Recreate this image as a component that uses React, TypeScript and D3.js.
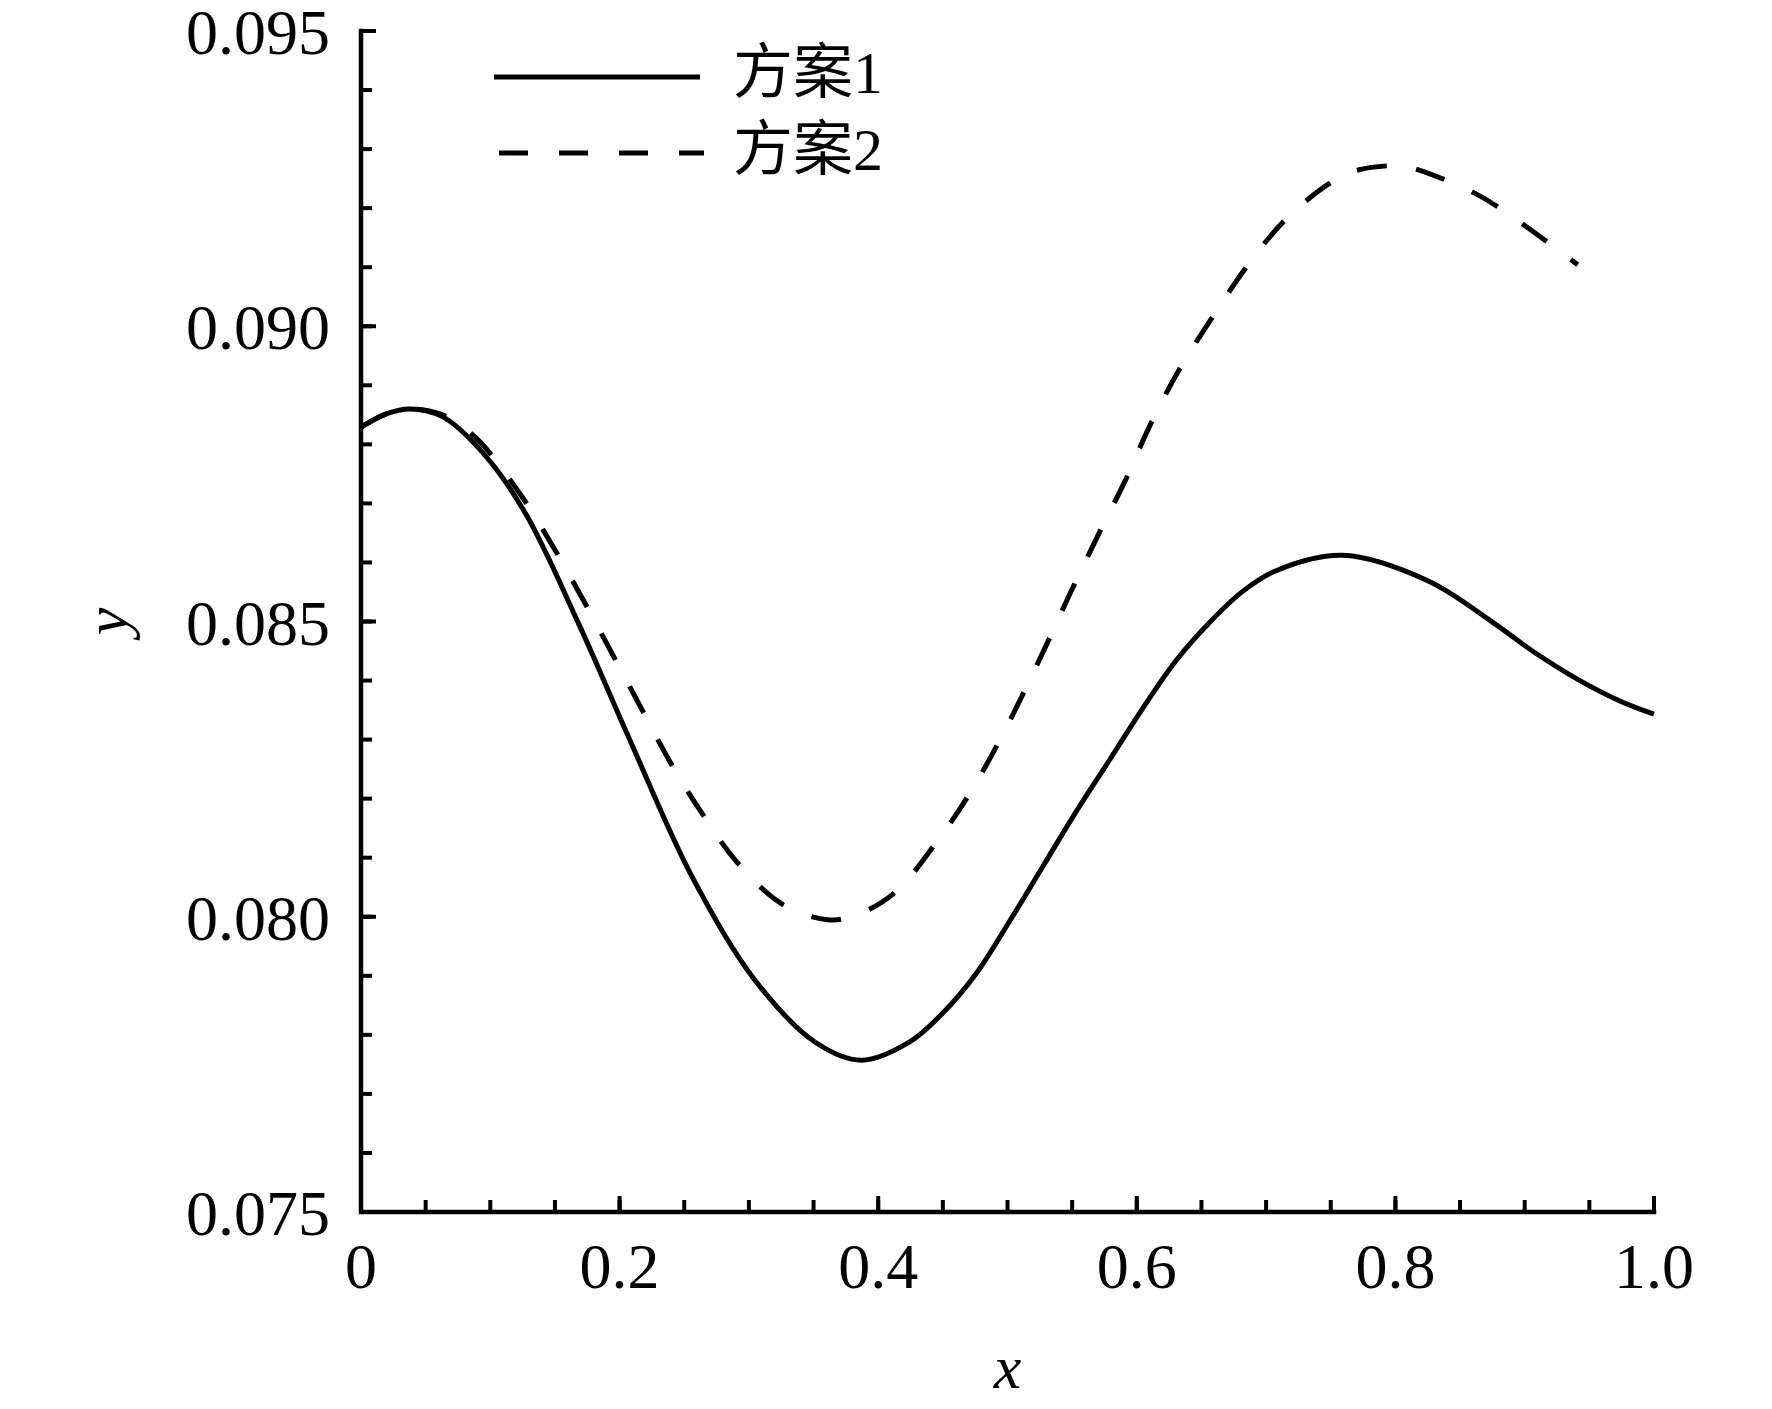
import * as d3 from "d3";
import React from "react";

// values
const xs1 = [0, 0.02, 0.038, 0.063, 0.095, 0.1275, 0.169, 0.207, 0.2555, 0.3035, 0.3516, 0.387, 0.4243, 0.45, 0.4758, 0.5015, 0.5273, 0.5531, 0.5788, 0.6046, 0.6304, 0.6561, 0.6819, 0.7077, 0.759, 0.825, 0.875, 0.908, 0.941, 0.974, 1.0];
const ys1 = [0.08829, 0.08852, 0.0886, 0.08847, 0.08784, 0.08682, 0.08493, 0.08304, 0.0807, 0.07896, 0.07787, 0.07757, 0.07788, 0.07837, 0.07904, 0.07992, 0.08085, 0.08178, 0.08265, 0.08353, 0.08434, 0.08498, 0.08551, 0.08586, 0.08612, 0.08569, 0.08499, 0.08447, 0.08402, 0.08365, 0.08343];

const xs2 = [0, 0.02, 0.038, 0.063, 0.0889, 0.124, 0.1498, 0.1722, 0.1946, 0.217, 0.2396, 0.2635, 0.2906, 0.326, 0.361, 0.3818, 0.4124, 0.444, 0.47, 0.4938, 0.5104, 0.53, 0.55, 0.57, 0.5916, 0.611, 0.633, 0.659, 0.686, 0.7156, 0.752, 0.772, 0.797, 0.808, 0.8616, 0.901, 0.941];
const ys2 = [0.08829, 0.08852, 0.0886, 0.0885, 0.08811, 0.08713, 0.08622, 0.08535, 0.08444, 0.08352, 0.0826, 0.08176, 0.08093, 0.08021, 0.07995, 0.08002, 0.0804, 0.08123, 0.08206, 0.08298, 0.0837, 0.0846, 0.08555, 0.08646, 0.08741, 0.08836, 0.08927, 0.09017, 0.09104, 0.09182, 0.09246, 0.09265, 0.09272, 0.09271, 0.09225, 0.09169, 0.09104];

const seriesNames = ["方案1", "方案2"];
const xTickLabels = ["0", "0.2", "0.4", "0.6", "0.8", "1.0"];
const yTickLabels = ["0.075", "0.080", "0.085", "0.090", "0.095"];

const W = 1772, H = 1409;
const left = 361, right = 1654, top = 31, bottom = 1212;
const font = "'Liberation Serif', 'Times New Roman', 'Noto Sans CJK SC', serif";

export default function App() {
    const x = d3.scaleLinear().domain([0, 1]).range([left, right]);
    const y = d3.scaleLinear().domain([0.075, 0.095]).range([bottom, top]);

    const line = d3.line<[number, number]>().x(d => x(d[0])).y(d => y(d[1])).curve(d3.curveCatmullRom.alpha(0.5));
    const s1 = xs1.map((v, i) => [v, ys1[i]] as [number, number]);
    const s2 = xs2.map((v, i) => [v, ys2[i]] as [number, number]);

    const xMajor = d3.range(0, 1.0001, 0.2);
    const xMinor = d3.range(0, 1.0001, 0.05);
    const yMajor = d3.range(0.075, 0.09501, 0.005);
    const yMinor = d3.range(0.075, 0.09501, 0.001);

    return (
        <svg width={W} height={H} viewBox={`0 0 ${W} ${H}`} style={{ position: "absolute", left: 0, top: 0, background: "#fff" }} fontFamily={font}>
            {/* ticks */}
            {xMinor.map((t, i) => (<line key={"xm" + i} x1={x(t)} x2={x(t)} y1={bottom} y2={bottom - 12} stroke="#000" strokeWidth={4} />))}
            {xMajor.map((t, i) => (<line key={"xM" + i} x1={x(t)} x2={x(t)} y1={bottom} y2={bottom - 16} stroke="#000" strokeWidth={4} />))}
            {yMinor.map((t, i) => (<line key={"ym" + i} x1={left} x2={left + 11} y1={y(t)} y2={y(t)} stroke="#000" strokeWidth={4} />))}
            {yMajor.map((t, i) => (<line key={"yM" + i} x1={left} x2={left + 15} y1={y(t)} y2={y(t)} stroke="#000" strokeWidth={4} />))}
            <path d={`M${left},${top}V${bottom}H${right}`} fill="none" stroke="#000" strokeWidth={4.5} strokeLinejoin="miter" strokeLinecap="square" />

            {/* tick labels */}
            {xMajor.map((t, i) => (<text key={"xl" + i} x={x(t)} y={bottom + 76} textAnchor="middle" fontSize={64}>{xTickLabels[i]}</text>))}
            {yMajor.map((t, i) => (<text key={"yl" + i} x={left - 31} y={y(t) + 23} textAnchor="end" fontSize={64}>{yTickLabels[i]}</text>))}

            {/* axis titles */}
            <text x={(left + right) / 2} y={1388} textAnchor="middle" fontSize={62} fontStyle="italic">x</text>
            <text transform={`translate(127,${y(0.085)}) rotate(-90)`} textAnchor="middle" fontSize={62} fontStyle="italic">y</text>

            {/* curves */}
            <path d={line(s1)!} fill="none" stroke="#000" strokeWidth={5} />
            <path d={line(s2)!} fill="none" stroke="#000" strokeWidth={5} strokeDasharray="30,30" />

            {/* legend */}
            <g>
                <line x1={494} x2={700} y1={77} y2={77} stroke="#000" strokeWidth={5} />
                <text x={733} y={93} fontSize={60}>{seriesNames[0]}</text>
                <line x1={499} x2={704} y1={153} y2={153} stroke="#000" strokeWidth={5} strokeDasharray="29,31" />
                <text x={733} y={170} fontSize={60}>{seriesNames[1]}</text>
            </g>
        </svg>
    );
}
